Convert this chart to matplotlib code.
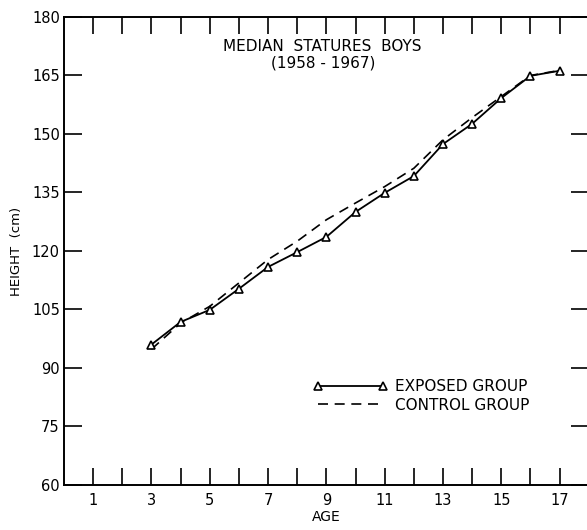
import matplotlib.pyplot as plt

ages = [3, 4, 5, 6, 7, 8, 9, 10, 11, 12, 13, 14, 15, 16, 17]
exposed = [96.0, 101.8, 104.9, 110.3, 115.9, 119.7, 123.6, 130.0, 134.9, 139.2, 147.4, 152.6, 159.2, 164.9, 166.2]
control = [94.8, 101.5, 105.8, 111.8, 117.8, 122.5, 128.0, 132.3, 136.5, 141.2, 148.5, 154.2, 159.6, 165.0, 166.3]

x_ticks = list(range(1, 18))
x_labels = [str(a) if a % 2 == 1 else "" for a in x_ticks]
y_ticks = [60, 75, 90, 105, 120, 135, 150, 165, 180]

plt.rcParams['font.family'] = ['DejaVu Sans']

fig = plt.figure(figsize=(5.87, 5.30), dpi=100)
ax = fig.add_axes([0.109, 0.085, 0.894, 0.883])

ax.plot(ages, exposed, color='black', lw=1.3, marker='^', markersize=5.5,
        markerfacecolor='white', markeredgecolor='black', markeredgewidth=1.2,
        label='EXPOSED GROUP', zorder=3)
ax.plot(ages, control, color='black', lw=1.2, ls=(0, (6, 4)),
        label='CONTROL GROUP', zorder=2)

ax.set_xlim(0, 18)
ax.set_ylim(60, 180)
ax.set_xticks(x_ticks)
ax.set_xticklabels(x_labels, fontsize=10.5)
ax.set_yticks(y_ticks)
ax.set_yticklabels([str(v) for v in y_ticks], fontsize=10.5)

ax.tick_params(axis='x', direction='in', length=12, width=1.2, top=True, pad=6)
ax.tick_params(axis='y', direction='in', length=13, width=1.2, right=True, pad=3)
ax.spines['right'].set_visible(False)
for s in ['left', 'bottom', 'top']:
    ax.spines[s].set_linewidth(1.4)

ax.set_xlabel('AGE', fontsize=10, labelpad=1)
ax.set_ylabel('HEIGHT  (cm)', fontsize=9.5, labelpad=6)

ax.text(8.85, 172.3, 'MEDIAN  STATURES  BOYS', fontsize=11, ha='center', va='center')
ax.text(8.9, 168.2, '(1958 - 1967)', fontsize=11, ha='center', va='center')

ax.legend(loc='lower left', bbox_to_anchor=(0.45, 0.125), frameon=False,
          fontsize=11, numpoints=2, handlelength=4.8, handletextpad=0.5,
          labelspacing=0.25)

fig.savefig('out.png', dpi=100)
